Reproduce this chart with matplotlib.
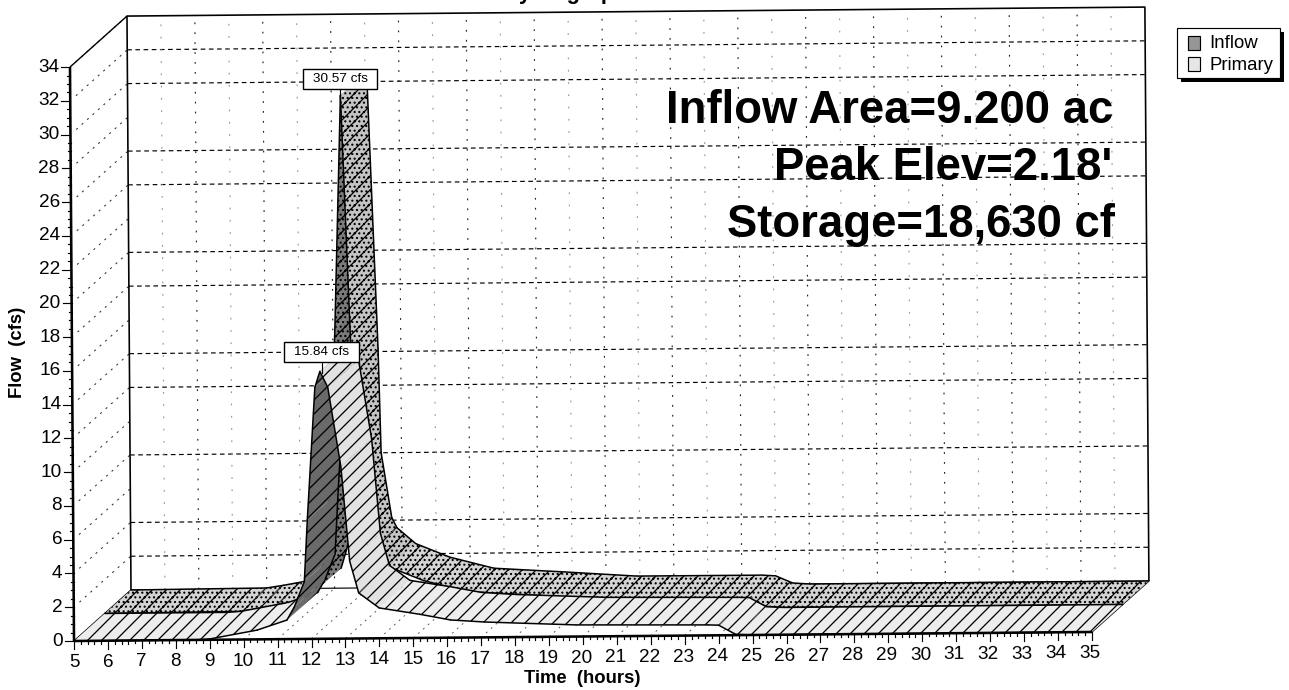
import numpy as np
import matplotlib
matplotlib.use('Agg')
import matplotlib.pyplot as plt
from matplotlib.patches import Polygon, Rectangle

plt.rcParams['font.family'] = ['Liberation Sans', 'DejaVu Sans']
plt.rcParams['hatch.linewidth'] = 1.1

# hydrograph values
inflow_t = [5, 9.0, 9.5, 10.07, 10.65, 11.2, 11.5, 11.7, 11.84, 12.05, 12.33, 12.4, 12.7, 12.85,
            13.4, 14.4, 15.7, 17.8, 19.9, 23.6, 24.0, 24.5, 25, 35]
inflow_q = [0, 0.05, 0.2, 0.4, 0.65, 1.2, 3.2, 9, 16.8, 30.57, 14.2, 8.0, 4.15, 3.55,
            2.6, 1.78, 1.1, 0.84, 0.56, 0.55, 0.5, 0.07, 0, 0]
primary_t = [5, 8.6, 9, 10.4, 11.28, 11.5, 11.8, 11.9, 12.15, 12.3, 12.53, 12.9, 13.14, 13.4,
             14.0, 15.2, 16.1, 17.1, 19.8, 23.7, 24.0, 24.5, 25, 35]
primary_q = [0, 0, 0.05, 0.55, 1.13, 1.9, 3.4, 7.05, 14.9, 15.84, 14.9, 10.2, 4.6, 2.7,
             1.8, 1.4, 1.05, 0.91, 0.69, 0.62, 0.6, 0.05, 0, 0]

hours = list(range(5, 36))
flow_ticks = list(range(0, 35, 2))
# some of the back wall lines dropped out in the scan
wall_dashed = [2, 4, 8, 12, 14, 18, 20, 24, 26, 30, 32]
notes = ["Inflow Area=9.200 ac", "Peak Elev=2.18'", "Storage=18,630 cf"]
note_y = [123, 180, 237]
note_x = [1113, 1112, 1115]


def project(t, q, d=0.0):
    # oblique 3d: hours, cfs, depth -> pixels (scan is a little skewed)
    t = np.asarray(t, dtype=float)
    q = np.asarray(q, dtype=float)
    d = np.asarray(d, dtype=float)
    x = 74 + 33.93*(t-5) + 57*d - 0.118*q
    y = 641 - 0.3*(t-5) - 16.88*q - 51*d
    return x, y


dpi = 84  # hatch spacing follows dpi
fig = plt.figure(figsize=(1289.01/dpi, 690.01/dpi), dpi=dpi)
ax = fig.add_axes([0, 0, 1, 1])
ax.set_xlim(0, 1289)
ax.set_ylim(690, 0)
ax.axis('off')


def line3d(t, q, d, **kw):
    x, y = project(t, q, d)
    ax.plot(x, y, solid_capstyle='butt', **kw)


# back wall
for q in wall_dashed:
    line3d([5, 35], [q, q], [1, 1], color='k', lw=1.0, ls=(0, (4, 3)), zorder=1)
for t in hours[1:-1]:
    dark = t % 2 == 1
    line3d([t, t], [0, 34], [1, 1], color='#222222' if dark else '#999999', lw=1.0,
           ls=(0, (1.5, 7 if dark else 9)), zorder=1)
# left wall and floor
for q in flow_ticks[1:]:
    line3d([5, 5], [q, q], [0.1, 1], color='#333333', lw=0.9, ls=(0, (2, 5)), zorder=1)
for t in hours[1:-1]:
    line3d([t, t], [0, 0], [0, 1], color='#555555', lw=0.8, ls=(0, (2, 5)), zorder=1)

line3d([5, 5, 35, 35], [0, 34, 34, 0], [1, 1, 1, 1], color='k', lw=1.4, zorder=2)
line3d([5, 5], [34, 34], [0, 1], color='k', lw=1.2, zorder=2)
line3d([5, 5], [0, 0], [0, 1], color='k', lw=1.2, zorder=2)
line3d([35, 35], [0, 0], [0, 1], color='k', lw=1.2, zorder=2)
line3d([5, 35], [0, 0], [1, 1], color='k', lw=1.0, zorder=2)


def ribbon(ts, qs, d0, d1, flat, fall, rise, z, stipple):
    for i in range(len(ts)-1):
        t = [ts[i], ts[i+1]]
        q = [qs[i], qs[i+1]]
        slope = (q[1]-q[0])/(t[1]-t[0])
        if slope > 1.5:
            col = rise
        elif slope < -1.5:
            col = fall
        else:
            col = flat
        x0, y0 = project(t, q, d0)
        x1, y1 = project(t, q, d1)
        pts = np.column_stack([np.r_[x0, x1[::-1]], np.r_[y0, y1[::-1]]])
        ax.add_patch(Polygon(pts, closed=True, facecolor=col, edgecolor='k', hatch='//'+stipple,
                             lw=0, zorder=z))
        ax.plot(x0, y0, color='k', lw=1.3, zorder=z, solid_capstyle='round')
        ax.plot(x1, y1, color='k', lw=1.3, zorder=z, solid_capstyle='round')
        z += 0.01


ribbon(inflow_t, inflow_q, 0.54, 1.0, '#d4d4d4', '#c4c4c4', '#7a7a7a', 3, '...')
ribbon(primary_t, primary_q, 0.0, 0.54, '#ededed', '#e2e2e2', '#6a6a6a', 4, '')

# axis lines and ticks
line3d([5, 5], [0, 34], [0, 0], color='k', lw=2.2, zorder=6)
line3d([5, 35], [0, 0], [0, 0], color='k', lw=2.2, zorder=6)
for q in np.arange(0, 34.01, 0.5):
    x, y = project(5, q)
    ln = 9 if q % 2 == 0 else 3
    ax.plot([x-ln, x], [y, y], color='k', lw=1.0, zorder=6)
for t in np.arange(5, 35.01, 0.2):
    x, y = project(t, 0)
    ln = 8 if abs(t-round(t)) < 1e-6 else 3
    ax.plot([x, x], [y, y+ln], color='k', lw=1.0, zorder=6)

px = 72/dpi  # font sizes below are given in pixels
for q in flow_ticks:
    x, y = project(5, q)
    ax.text(x-11, y, str(q), ha='right', va='center', fontsize=19*px, color='k', zorder=7)
for t in hours:
    x, y = project(t, 0)
    ax.text(x-0.07*(t-5), y+21.5, str(t), ha='center', va='center', fontsize=19*px, color='k',
            rotation=0.5, zorder=7)
ax.text(17, 352, 'Flow  (cfs)', rotation=90, ha='center', va='center', fontsize=18.5*px,
        fontweight='bold', color='k')
ax.text(582, 678, 'Time  (hours)', ha='center', va='center', fontsize=18.5*px, fontweight='bold',
        color='k')
# title, cut off by the top of the scan
ax.text(566, -1, 'Hydrograph', ha='center', va='baseline', fontsize=22*px, fontweight='bold',
        color='k', clip_on=False)

for s, x, y in zip(notes, note_x, note_y):
    ax.text(x, y, s, ha='right', va='baseline', fontsize=45.5*px, fontweight='bold', color='k',
            zorder=8)

# peak labels
ax.plot([322, 322], [362, 373], color='k', lw=1.0, zorder=8)
ax.plot([340, 340], [89, 98], color='k', lw=1.0, zorder=8)
for s, x0, x1, y0, y1 in [('30.57 cfs', 303, 377, 69, 89), ('15.84 cfs', 284, 359, 342, 362)]:
    ax.add_patch(Rectangle((x0, y0), x1-x0, y1-y0, facecolor='white', edgecolor='k', lw=1.2, zorder=9))
    ax.text((x0+x1)/2, (y0+y1)/2, s, ha='center', va='center', fontsize=13.5*px, color='k', zorder=10)

# legend
ax.add_patch(Rectangle((1181, 32), 103, 50, facecolor='k', lw=0, zorder=8))
ax.add_patch(Rectangle((1177, 28), 103, 50, facecolor='white', edgecolor='k', lw=1.0, zorder=9))
ax.add_patch(Rectangle((1188, 36), 12, 14, facecolor='#969696', edgecolor='k', lw=1.0, zorder=10))
ax.add_patch(Rectangle((1188, 57), 12, 14, facecolor='#e6e6e6', edgecolor='k', lw=1.0, zorder=10))
ax.text(1209, 43, 'Inflow', ha='left', va='center', fontsize=18.7*px, color='k', zorder=10)
ax.text(1209, 65, 'Primary', ha='left', va='center', fontsize=18.7*px, color='k', zorder=10)

fig.savefig('out.png', dpi=dpi, facecolor='white')
